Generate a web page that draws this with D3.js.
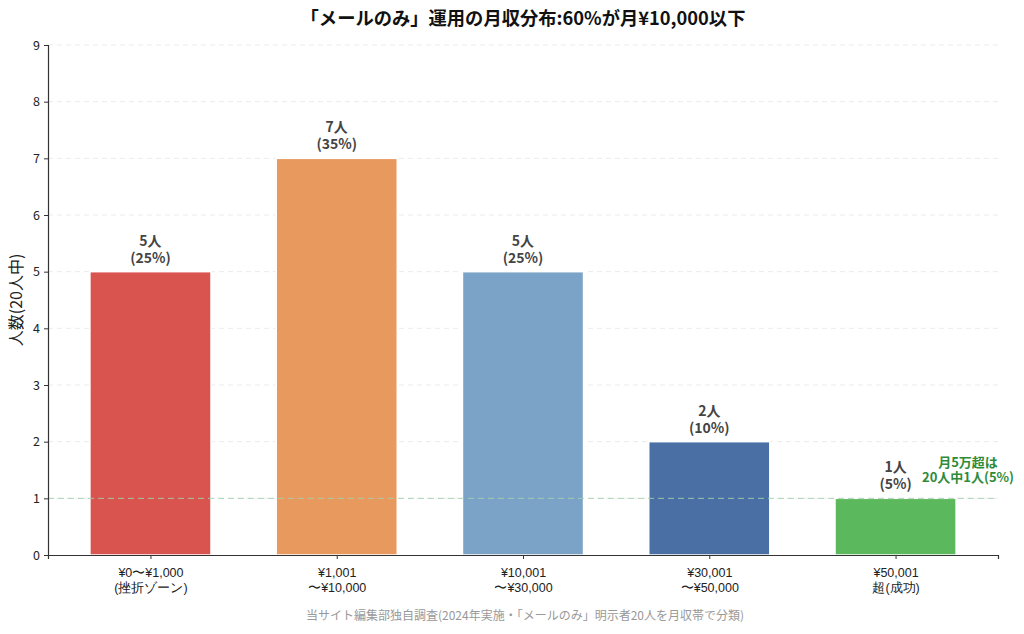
<!DOCTYPE html>
<html>
<head>
<meta charset="utf-8">
<script src="https://cdn.jsdelivr.net/npm/d3@7.9.0/dist/d3.min.js"></script>
<style>
  body { margin: 0; background: #fff; }
  svg { font-family: "Noto Sans CJK JP", "Noto Sans", sans-serif; }
</style>
</head>
<body>
<svg id="chart" width="1024" height="634"></svg>
<script>
// data
const categories = ['¥0〜¥1,000\n(挫折ゾーン)', '¥1,001\n〜¥10,000', '¥10,001\n〜¥30,000', '¥30,001\n〜¥50,000', '¥50,001\n超(成功)'];
const counts = [5, 7, 5, 2, 1];
const percents = [25, 35, 25, 10, 5];
const barColors = ['#d9534f', '#e89a5e', '#7ba3c7', '#4a6fa5', '#5cb85c'];
const yTicks = [0, 1, 2, 3, 4, 5, 6, 7, 8, 9];
const threshold = 1;

const svg = d3.select('#chart');
const margin = { left: 48, right: 26, top: 45, bottom: 79 };
const W = 1024, H = 634;
const x0 = margin.left, x1 = W - margin.right;
const yBottom = H - margin.bottom, yTop = margin.top;

// linear x so we can mimic xlim -0.55..4.55
let x = d3.scaleLinear().domain([-0.55, categories.length - 1 + 0.55]).range([x0, x1]);
let y = d3.scaleLinear().domain([0, 9]).range([yBottom, yTop]);
const barW = 0.65;

// grid
svg.append('g')
  .selectAll('line')
  .data(yTicks.filter(d => d > 0))
  .join('line')
  .attr('x1', x0).attr('x2', x1)
  .attr('y1', d => y(d)).attr('y2', d => y(d))
  .attr('stroke', '#e6e6e6')
  .attr('stroke-dasharray', '5,4')
  .attr('stroke-width', 0.8);

// bars
svg.append('g')
  .selectAll('rect')
  .data(counts)
  .join('rect')
  .attr('x', (d, i) => x(i - barW / 2))
  .attr('width', (d, i) => x(i + barW / 2) - x(i - barW / 2))
  .attr('y', d => y(d))
  .attr('height', d => y(0) - y(d))
  .attr('fill', (d, i) => barColors[i])
  .attr('stroke', '#fff')
  .attr('stroke-width', 1.5);

// threshold line
svg.append('line')
  .attr('x1', x0).attr('x2', x1)
  .attr('y1', y(threshold)).attr('y2', y(threshold))
  .attr('stroke', '#a3d0ac')
  .attr('stroke-width', 1)
  .attr('stroke-dasharray', '6,4')
  .attr('opacity', 0.9);

// value labels (two separate lines)
let lab = svg.append('g')
  .attr('text-anchor', 'middle')
  .attr('font-weight', 'bold')
  .attr('font-size', 14)
  .attr('fill', '#444');
lab.selectAll('text.cnt')
  .data(counts)
  .join('text')
  .attr('class', 'cnt')
  .attr('x', (d, i) => x(i))
  .attr('y', d => y(d) - 26)
  .text(d => d + '人');
lab.selectAll('text.pct')
  .data(counts)
  .join('text')
  .attr('class', 'pct')
  .attr('x', (d, i) => x(i))
  .attr('y', d => y(d) - 9)
  .text((d, i) => '(' + percents[i] + '%)');

// axes
const yAxis = d3.axisLeft(y).tickValues(yTicks).tickSize(4).tickPadding(4);
let gy = svg.append('g').attr('transform', `translate(${x0},0)`).call(yAxis);
gy.select('.domain').attr('stroke', '#333').attr('stroke-width', 1.2);
gy.selectAll('.tick line').attr('stroke', '#333');
gy.selectAll('.tick text').attr('font-size', 12.5).attr('fill', '#222')
  .attr('font-family', '"Noto Sans CJK JP", sans-serif');

const xAxis = d3.axisBottom(x).tickValues(d3.range(categories.length)).tickSize(4).tickFormat(() => '');
let gx = svg.append('g').attr('transform', `translate(0,${yBottom})`).call(xAxis);
gx.select('.domain').attr('stroke', '#333').attr('stroke-width', 1.2);
gx.selectAll('.tick line').attr('stroke', '#333');
gx.selectAll('.tick').each(function (d) {
  const lines = categories[d].split('\n');
  const t = d3.select(this).append('text')
    .attr('text-anchor', 'middle')
    .attr('font-size', 12.5)
    .attr('fill', '#222');
  lines.forEach((l, k) => {
    t.append('tspan').attr('x', 0).attr('y', 22 + k * 15).text(l);
  });
});

// y label
svg.append('text')
  .attr('transform', `translate(22,${(yTop + yBottom) / 2}) rotate(-90)`)
  .attr('text-anchor', 'middle')
  .attr('font-size', 16)
  .attr('fill', '#222')
  .text('人数(20人中)');

// title
svg.append('text')
  .attr('x', (x0 + x1) / 2).attr('y', 25)
  .attr('text-anchor', 'middle')
  .attr('font-size', 18.3)
  .attr('font-weight', 'bold')
  .attr('fill', '#111')
  .text('「メールのみ」運用の月収分布:60%が月¥10,000以下');

// annotation
const ann = svg.append('g')
  .attr('text-anchor', 'middle')
  .attr('font-size', 13)
  .attr('font-weight', 'bold')
  .attr('fill', '#2e8b3a');
ann.append('text').attr('x', 968).attr('y', 467).text('月5万超は');
ann.append('text').attr('x', 968).attr('y', 482).text('20人中1人(5%)');

// footer
svg.append('text')
  .attr('x', (x0 + x1) / 2 + 2).attr('y', 620)
  .attr('text-anchor', 'middle')
  .attr('font-size', 12)
  .attr('fill', '#999')
  .text('当サイト編集部独自調査(2024年実施・「メールのみ」明示者20人を月収帯で分類)');
</script>
</body>
</html>
